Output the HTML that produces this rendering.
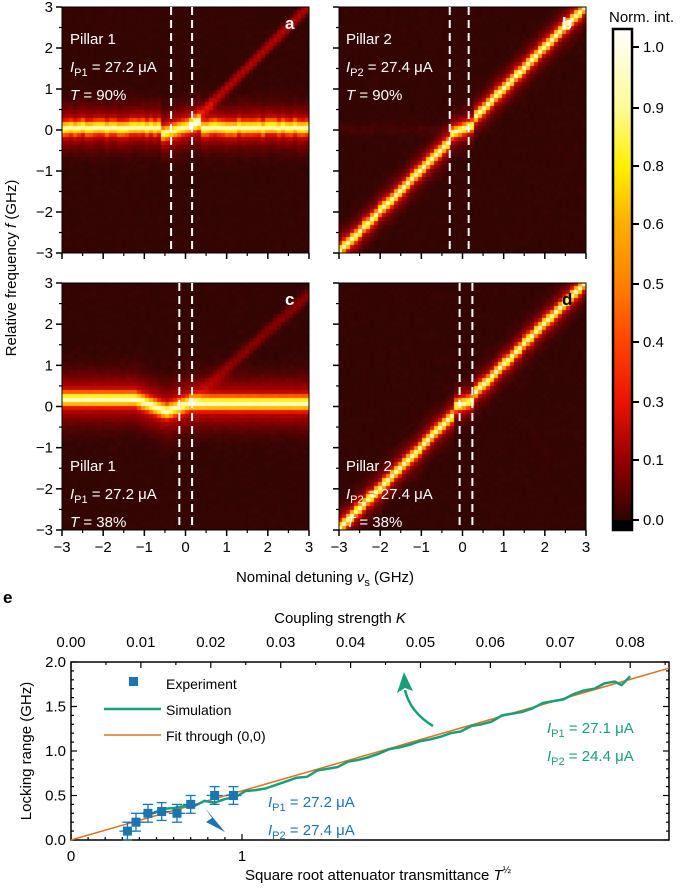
<!DOCTYPE html>
<html><head><meta charset="utf-8">
<style>
html,body{margin:0;padding:0;background:#fff;}
#root{position:relative;width:682px;height:889px;overflow:hidden;font-family:"Liberation Sans",sans-serif;}
canvas{position:absolute;}
svg{position:absolute;left:0;top:0;}
</style></head>
<body>
<div id="root">
<canvas id="ha" width="247" height="246" style="left:62px;top:7px"></canvas>
<canvas id="hb" width="247" height="246" style="left:339px;top:7px"></canvas>
<canvas id="hc" width="247" height="247" style="left:62px;top:283px"></canvas>
<canvas id="hd" width="247" height="247" style="left:339px;top:283px"></canvas>
<svg id="s" width="682" height="889" xmlns="http://www.w3.org/2000/svg">
<defs>
<linearGradient id="cb" x1="0" y1="1" x2="0" y2="0">
<stop offset="0" stop-color="#2d0402"/>
<stop offset="0.1218" stop-color="#960000"/>
<stop offset="0.2432" stop-color="#eb1400"/>
<stop offset="0.3661" stop-color="#ff4600"/>
<stop offset="0.4848" stop-color="#ff8200"/>
<stop offset="0.6045" stop-color="#ffaf00"/>
<stop offset="0.7201" stop-color="#fff000"/>
<stop offset="0.8377" stop-color="#fffa96"/>
<stop offset="1" stop-color="#ffffff"/>
</linearGradient>
</defs>
<g id="g"></g>
</svg>
</div>
<script>
// ---------- data ----------
const cbTicks=[0.0,0.1,0.3,0.4,0.5,0.6,0.8,0.9,1.0];
const dashA=[-0.35,0.16], dashB=[-0.31,0.15], dashC=[-0.15,0.16], dashD=[-0.07,0.24];
const detTicks=[-3,-2,-1,0,1,2,3];
const freqTicks=[-3,-2,-1,0,1,2,3];
const expX=[0.33,0.38,0.45,0.53,0.62,0.70,0.84,0.95];
const expY=[0.10,0.20,0.30,0.32,0.30,0.40,0.50,0.50];
const expErr=[0.10,0.10,0.10,0.10,0.10,0.10,0.10,0.10];
const simX=[0.42,0.48,0.54,0.60,0.66,0.72,0.78,0.84,0.90,0.96,1.02,1.08,1.14,1.20,1.26,1.32,1.38,1.44,1.50,1.56,1.62,1.68,1.74,1.80,1.86,1.92,1.98,2.04,2.10,2.16,2.22,2.28,2.34,2.40,2.46,2.52,2.58,2.64,2.70,2.76,2.82,2.88,2.94,3.00,3.06,3.12,3.18,3.22,3.27];
const simY=[0.30,0.30,0.35,0.36,0.38,0.38,0.44,0.42,0.46,0.48,0.55,0.56,0.58,0.62,0.66,0.70,0.71,0.78,0.80,0.82,0.88,0.90,0.93,0.97,1.02,1.04,1.07,1.11,1.13,1.16,1.20,1.22,1.28,1.30,1.33,1.40,1.42,1.44,1.48,1.54,1.56,1.58,1.64,1.68,1.70,1.76,1.78,1.74,1.84];
const fitSlope=0.552;
const kTicks=[0.00,0.01,0.02,0.03,0.04,0.05,0.06,0.07,0.08];
const lrTicks=[0.0,0.5,1.0,1.5,2.0];

// ---------- heatmaps ----------
const stops=[[0,[50,5,3]],[0.1,[150,0,0]],[0.3,[235,20,0]],[0.4,[255,70,0]],[0.5,[255,130,0]],[0.6,[255,175,0]],[0.8,[255,240,0]],[0.9,[255,250,150]],[1,[255,255,255]]];
function cmap(v){v=Math.max(0,Math.min(1,v));for(let i=1;i<stops.length;i++){if(v<=stops[i][0]){const a=stops[i-1],b=stops[i];const t=(v-a[0])/(b[0]-a[0]);return a[1].map((c,k)=>Math.round(c+(b[1][k]-c)*t));}}return [255,255,255];}
let seed=7;function rnd(){seed=(seed*16807)%2147483647;return seed/2147483647;}
function g(x,c,s){return Math.exp(-((x-c)*(x-c))/(2*s*s));}
function draw(id,fn){const cv=document.getElementById(id),ctx=cv.getContext('2d');const N=62,M=62;const cw=cv.width/N,ch=cv.height/M;
 for(let i=0;i<N;i++){const v=-3+6*(i+0.5)/N;const jit=(rnd()-0.5)*0.06;for(let j=0;j<M;j++){const f=3-6*(j+0.5)/M;let val=fn(v,f,jit)+(rnd()-0.5)*0.015;const c=cmap(val);ctx.fillStyle='rgb('+c+')';ctx.fillRect(Math.floor(i*cw),Math.floor(j*ch),Math.ceil(cw)+1,Math.ceil(ch)+1);}}}
draw('ha',(v,f,j)=>{let c=0.05+j;if(v>-0.6&&v<0.4)c=-0.12+(v+0.6)*0.3;let a=0.78*g(f,c,0.12)+0.15*g(f,c,0.35);if(v>0.1)a+=0.16*g(f,v,0.1)*(v<0.7?1.5:1);return a;});
draw('hb',(v,f,j)=>{let c=v+j;if(v>-0.3&&v<0.3)c=v*0.4;return 0.8*g(f,c,0.1)+0.13*g(f,c,0.28)+0.02*g(f,0,0.1)*(v<0?1:0);});
draw('hc',(v,f,j)=>{let c=0.15+j*0.5;if(v<-1.2)c=0.17;else if(v<-0.45)c=0.17-(v+1.2)*0.4;else if(v<0.2)c=-0.13+(v+0.45)*0.35;else c=0.07;let a=0.8*g(f,c,0.12)+0.16*g(f,c,0.4);if(v>0.1)a+=0.09*g(f,v*0.9,0.12);return a;});
draw('hd',(v,f,j)=>{let c=v+j;if(v>-0.15&&v<0.3)c=0.05+(v)*0.3;return 0.8*g(f,c,0.1)+0.13*g(f,c,0.28);});

// ---------- svg ----------
const NS='http://www.w3.org/2000/svg';const G=document.getElementById('g');
function el(tag,attrs,parent){const e=document.createElementNS(NS,tag);for(const k in attrs)e.setAttribute(k,attrs[k]);(parent||G).appendChild(e);return e;}
function txt(x,y,s,attrs){const t=el('text',Object.assign({x:x,y:y,'font-size':15,fill:'#000'},attrs||{}));t.innerHTML=s;return t;}

const panels=[{x:62,y:7,h:246,d:dashA,id:'a'},{x:339,y:7,h:246,d:dashB,id:'b'},{x:62,y:283,h:247,d:dashC,id:'c'},{x:339,y:283,h:247,d:dashD,id:'d'}];
panels.forEach((p,pi)=>{
 const W=247;const sx=v=>p.x+(v+3)/6*W, sy=f=>p.y+(3-f)/6*p.h;
 const fr=el('rect',{x:p.x,y:p.y,width:W,height:p.h,fill:'none',stroke:'#000','stroke-width':1});
 
 p.d.forEach(dv=>{const l=el('line',{x1:sx(dv),x2:sx(dv),y1:p.y,y2:p.y+p.h,stroke:'#fff','stroke-width':2,'stroke-dasharray':'8,5'});
  });
 freqTicks.forEach(f=>{el('line',{x1:p.x-6,x2:p.x,y1:sy(f),y2:sy(f),stroke:'#000','stroke-width':1.5});
  if(f<3)el('line',{x1:p.x-3,x2:p.x,y1:sy(f+0.5),y2:sy(f+0.5),stroke:'#000','stroke-width':1.2});
  if(pi%2==0){const t=txt(p.x-9,sy(f)+5,f<0?'−'+(-f):''+f,{'text-anchor':'end'});}});
 detTicks.forEach(v=>{el('line',{x1:sx(v),x2:sx(v),y1:p.y+p.h,y2:p.y+p.h+6,stroke:'#000','stroke-width':1.5});
  if(v<3)el('line',{x1:sx(v+0.5),x2:sx(v+0.5),y1:p.y+p.h,y2:p.y+p.h+3,stroke:'#000','stroke-width':1.2});
  if(pi>=2){const t=txt(sx(v),p.y+p.h+22,v<0?'−'+(-v):''+v,{'text-anchor':'middle'});}});
 const lt=txt(p.x+223,p.y+22,p.id,{fill:p.id=='d'?'#000':'#fff','font-weight':'bold','font-size':17});
 
});
function info(x,y0,pillar,cur,T,parentName){
 const a=txt(x,y0,'Pillar '+pillar,{fill:'#fff'});
 const b=txt(x,y0+28,'<tspan font-style="italic">I</tspan><tspan font-size="11" dy="4">P'+pillar+'</tspan><tspan dy="-4"> = '+cur+' μA</tspan>',{fill:'#fff'});
 const c=txt(x,y0+56,'<tspan font-style="italic">T</tspan> = '+T+'%',{fill:'#fff'});
}
info(70,44,1,'27.2',90,'panel-a');
info(346,44,2,'27.4',90,'panel-b');
info(70,471,1,'27.2',38,'panel-c');
info(346,471,2,'27.4',38,'panel-d');
let t=txt(0,0,'Relative frequency <tspan font-style="italic">f</tspan> (GHz)',{transform:'translate(16,268) rotate(-90)','text-anchor':'middle'});

t=txt(325,582,'Nominal detuning <tspan font-style="italic">ν</tspan><tspan font-size="11" dy="4">s</tspan><tspan dy="-4"> (GHz)</tspan>',{'text-anchor':'middle'});


// colorbar
const cbPos=[520,460,402,342,284,224,166,108,47];
const cbr=el('rect',{x:613,y:29,width:19,height:491,fill:'url(#cb)'});
el('rect',{x:613,y:520,width:19,height:10,fill:'#000'});
el('rect',{x:613,y:29,width:19,height:501,fill:'none',stroke:'#000','stroke-width':2.5});
cbTicks.forEach((v,i)=>{const y=cbPos[i];el('line',{x1:632,x2:639,y1:y,y2:y,stroke:'#000','stroke-width':2});
 const l=txt(643,y+5,v.toFixed(1));});
t=txt(609,22,'Norm. int.');

// ---------- panel e ----------
const L=71,R=669,T0=662,B0=840;
const xT=v=>L+v*171, yL=v=>B0-v*89, xK=k=>L+k*6990;
const fe=el('rect',{x:L,y:T0,width:R-L,height:B0-T0,fill:'none',stroke:'#000','stroke-width':1.5});

t=txt(3,603,'e',{'font-weight':'bold','font-size':17});
for(let v=0;v<=2.001;v+=0.1){const y=yL(v);const maj=Math.abs(v*2-Math.round(v*2))<1e-6;const len=maj?6:3;
 el('line',{x1:L,x2:L+len,y1:y,y2:y,stroke:'#000','stroke-width':1.2});el('line',{x1:R-len,x2:R,y1:y,y2:y,stroke:'#000','stroke-width':1.2});}
lrTicks.forEach(v=>{const l=txt(L-5,yL(v)+5,v.toFixed(1),{'text-anchor':'end'});});
for(let v=0;v<=1.001;v+=0.1){const maj=Math.abs(v-Math.round(v))<1e-6;el('line',{x1:xT(v),x2:xT(v),y1:B0,y2:B0-(maj?6:3),stroke:'#000','stroke-width':1.2});}
[0,1].forEach(v=>{const l=txt(xT(v),B0+21,''+v,{'text-anchor':'middle'});});
for(let k=0;k<=0.0851;k+=0.005){const maj=Math.abs(k*100-Math.round(k*100))<1e-6;el('line',{x1:xK(k),x2:xK(k),y1:T0,y2:T0+(maj?6:3),stroke:'#000','stroke-width':1.2});}
kTicks.forEach(k=>{const l=txt(xK(k),T0-15,k.toFixed(2),{'text-anchor':'middle'});});
t=txt(340,623,'Coupling strength <tspan font-style="italic">K</tspan>',{'text-anchor':'middle'});
t=txt(378,880,'Square root attenuator transmittance <tspan font-style="italic">T</tspan><tspan font-size="10" dy="-7">½</tspan>',{'text-anchor':'middle'});
t=txt(0,0,'Locking range (GHz)',{transform:'translate(31,751) rotate(-90)','text-anchor':'middle'});
// fit
const xEnd=(R-L)/171;
const fit=el('line',{x1:xT(0),y1:yL(0),x2:xT(xEnd),y2:yL(fitSlope*xEnd),stroke:'#e07020','stroke-width':1.5});

// simulation
const sim=el('polyline',{points:simX.map((x,i)=>xT(x)+','+yL(simY[i])).join(' '),fill:'none',stroke:'#17a078','stroke-width':2.5,'stroke-linejoin':'round'});

// experiment
expX.forEach((x,i)=>{const cx=xT(x),cy=yL(expY[i]),e=expErr[i]*89,c='#1a75b0';
 el('line',{x1:cx,x2:cx,y1:cy-e,y2:cy+e,stroke:c,'stroke-width':1.3});
 el('line',{x1:cx-5,x2:cx+5,y1:cy-e,y2:cy-e,stroke:c,'stroke-width':1.3});
 el('line',{x1:cx-5,x2:cx+5,y1:cy+e,y2:cy+e,stroke:c,'stroke-width':1.3});
 el('line',{x1:cx-8,x2:cx+8,y1:cy,y2:cy,stroke:c,'stroke-width':1.3});
 const r=el('rect',{x:cx-4.5,y:cy-4.5,width:9,height:9,fill:c});
 });
// legend
el('rect',{x:129,y:677,width:9,height:9,fill:'#1a75b0'});
t=txt(166,689,'Experiment',{'font-size':14});
el('line',{x1:104,x2:161,y1:709,y2:709,stroke:'#17a078','stroke-width':2.5});
t=txt(166,715,'Simulation',{'font-size':14});
el('line',{x1:104,x2:161,y1:735,y2:735,stroke:'#e07020','stroke-width':1.5});
t=txt(166,741,'Fit through (0,0)',{'font-size':14});
// annotations
function cur(x,y,n,v,c,name){const a=txt(x,y,'<tspan font-style="italic">I</tspan><tspan font-size="11" dy="4">P'+n+'</tspan><tspan dy="-4"> = '+v+' μA</tspan>',{fill:c});}
cur(547,733,1,'27.1','#17a078','sim-current-p1');
cur(547,761,2,'24.4','#17a078','sim-current-p2');
cur(268,807,1,'27.2','#1a75b0','exp-current-p1');
cur(268,835,2,'27.4','#1a75b0','exp-current-p2');
const ga=el('path',{d:'M433,726 Q410,712 405,690',fill:'none',stroke:'#17a078','stroke-width':2.5});

el('path',{d:'M404,672 L397,693 L405,688 L413,691 Z',fill:'#17a078'});
const ba=el('path',{d:'M225,832 L206,822 L212,818 L205,808 Z',fill:'#1a75b0'});

</script>
</body></html>
